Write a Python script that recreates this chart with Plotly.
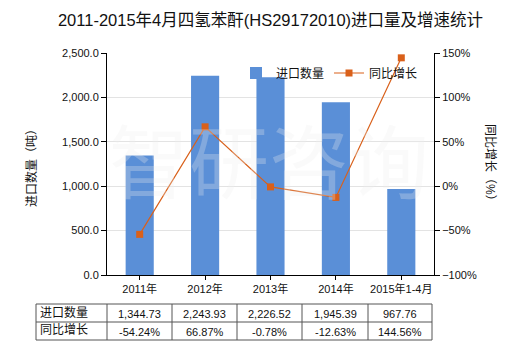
import plotly.graph_objects as go

# Data
categories = ["2011年", "2012年", "2013年", "2014年", "2015年1-4月"]
import_volume = [1344.73, 2243.93, 2226.52, 1945.39, 967.76]
yoy_growth = [-54.24, 66.87, -0.78, -12.63, 144.56]
row_labels = ["进口数量", "同比增长"]

W, H = 520, 350
ML, MR, MT, MB = 107, 86, 53, 75
PW, PH = W - ML - MR, H - MT - MB

FONT = "Liberation Sans, Arial, Noto Sans CJK SC, sans-serif"
BAR = "#5A8FD7"
LINE = "#D9601A"
TXT = "#111"


def px(x):
    return (x - ML) / PW


def py(y):
    return (H - MB - y) / PH


fig = go.Figure()
fig.add_trace(go.Bar(
    x=categories, y=import_volume, name="进口数量",
    marker=dict(color=BAR, line=dict(width=0)), width=0.43,
))
fig.add_trace(go.Scatter(
    x=categories, y=yoy_growth, name="同比增长", yaxis="y2",
    mode="lines+markers",
    line=dict(color=LINE, width=1.2),
    marker=dict(symbol="square", size=7, color=LINE),
))

annotations = []
shapes = []

# Axis titles
annotations.append(dict(text="进口数量（吨）", xref="paper", yref="paper",
                        x=px(31), y=py(165), xanchor="center", yanchor="middle",
                        textangle=-90, showarrow=False,
                        font=dict(size=12, color=TXT, family=FONT)))
annotations.append(dict(text="同比增长（%）", xref="paper", yref="paper",
                        x=px(490), y=py(165), xanchor="center", yanchor="middle",
                        textangle=90, showarrow=False,
                        font=dict(size=12, color=TXT, family=FONT)))

# Data table beneath the axis
col_edges = [36, 107, 172, 237, 302, 368, 432]
row_edges = [304, 322, 340]
for yy in row_edges:
    shapes.append(dict(type="line", xref="paper", yref="paper",
                       x0=px(col_edges[0]), x1=px(col_edges[-1]), y0=py(yy), y1=py(yy),
                       line=dict(color="#555", width=1)))
for xx in col_edges:
    shapes.append(dict(type="line", xref="paper", yref="paper",
                       x0=px(xx), x1=px(xx), y0=py(row_edges[0]), y1=py(row_edges[-1]),
                       line=dict(color="#555", width=1)))

rows = [
    [f"{v:,.2f}" for v in import_volume],
    [f"{v:.2f}%" for v in yoy_growth],
]
for r, (label, cells) in enumerate(zip(row_labels, rows)):
    yc = (row_edges[r] + row_edges[r + 1]) / 2
    annotations.append(dict(text=label, xref="paper", yref="paper", x=px(38), y=py(yc - 1),
                            xanchor="left", yanchor="middle", showarrow=False,
                            font=dict(size=12, color=TXT, family=FONT)))
    for c, txt in enumerate(cells):
        xc = (col_edges[c + 1] + col_edges[c + 2]) / 2
        annotations.append(dict(text=txt, xref="paper", yref="paper", x=px(xc), y=py(yc + 1),
                                xanchor="center", yanchor="middle", showarrow=False,
                                font=dict(size=11, color=TXT, family=FONT)))

# Watermark across the plot area
annotations.append(dict(text="智研咨询", xref="paper", yref="paper",
                        x=px(269), y=py(157), xanchor="center", yanchor="middle",
                        showarrow=False,
                        font=dict(size=80, color="rgba(238,238,238,0.28)",
                                  family="Noto Sans CJK SC")))

fig.update_layout(
    width=W, height=H,
    margin=dict(l=ML, r=MR, t=MT, b=MB),
    paper_bgcolor="white", plot_bgcolor="white",
    font=dict(family=FONT, size=11, color=TXT),
    title=dict(text="2011-2015年4月四氢苯酐(HS29172010)进口量及增速统计",
               x=0.5, xref="paper", xanchor="center", y=1 - 20 / H, yanchor="middle",
               font=dict(size=16.5, color=TXT, family=FONT)),
    showlegend=True,
    legend=dict(orientation="h", x=px(236), y=py(73), xanchor="left", yanchor="middle",
                bgcolor="rgba(0,0,0,0)", font=dict(size=12, color=TXT, family=FONT),
                itemwidth=30, tracegroupgap=0),
    xaxis=dict(type="category", showline=True, linecolor="#000", linewidth=1,
               ticks="outside", ticklen=4, tickcolor="#000",
               tickfont=dict(size=11, color=TXT), showgrid=False,
               range=[-0.5, 4.5]),
    yaxis=dict(range=[0, 2500], dtick=500, tickformat=",.1f",
               showline=True, linecolor="#000", linewidth=1,
               ticks="outside", ticklen=5, tickcolor="#000",
               gridcolor="#E3E3E3", gridwidth=1, zeroline=False,
               tickfont=dict(size=11, color=TXT)),
    yaxis2=dict(range=[-100, 150], dtick=50, ticksuffix="%", overlaying="y", side="right",
                showline=True, linecolor="#000", linewidth=1,
                ticks="outside", ticklen=5, tickcolor="#000",
                showgrid=False, zeroline=False,
                tickfont=dict(size=11, color=TXT)),
    annotations=annotations,
    shapes=shapes,
)

fig.write_html("out.html")
